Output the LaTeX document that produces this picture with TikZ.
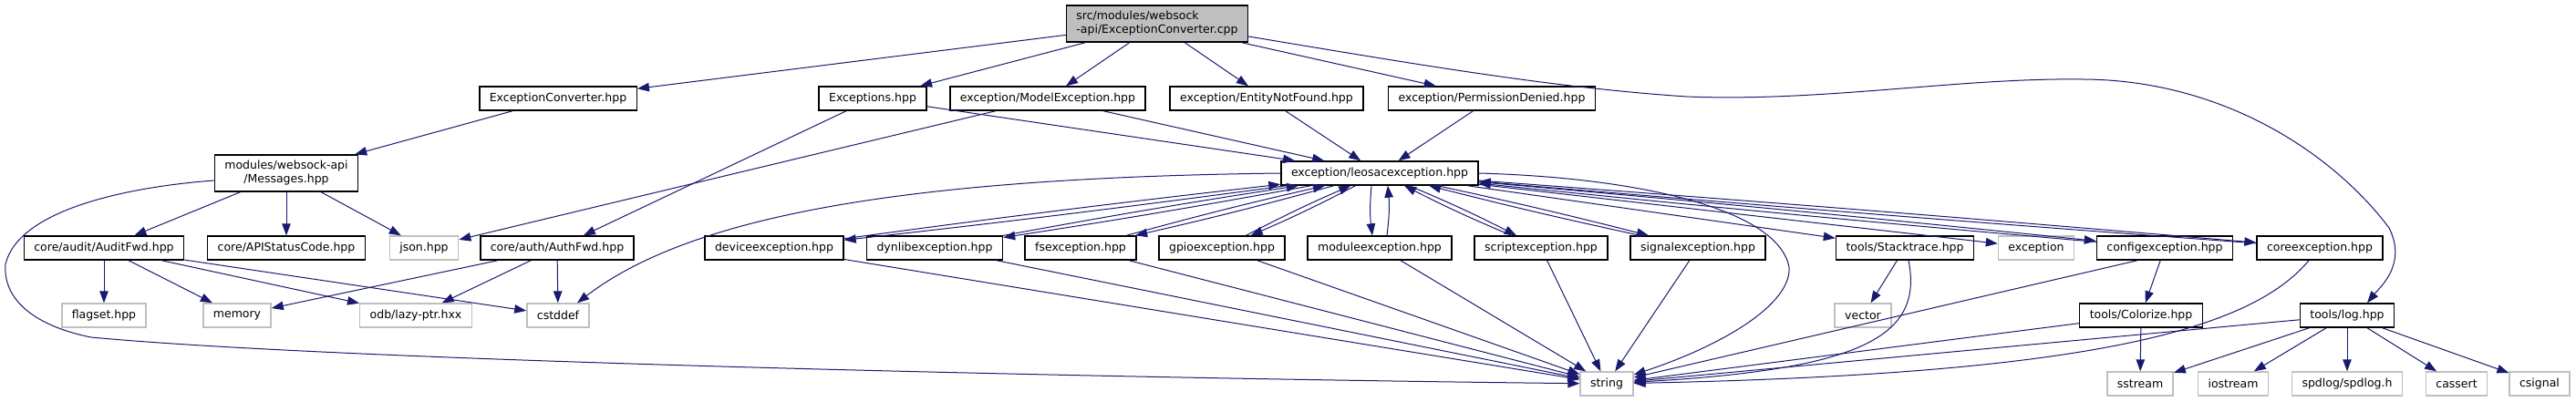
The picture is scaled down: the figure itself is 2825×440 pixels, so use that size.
\documentclass[tikz,border=0pt]{standalone}
\usepackage{fontspec}
\setmainfont{DejaVu Sans}
\usepackage{tikz}
\usetikzlibrary{arrows.meta}
\definecolor{edgeblue}{HTML}{191970}
\definecolor{extgray}{HTML}{BFBFBF}
\tikzset{
  file/.style={draw=black,line width=1.4pt,fill=white,inner xsep=11pt,inner ysep=0pt,
    minimum height=26pt,font=\fontsize{12.5}{15}\selectfont},
  sysfile/.style={file,draw=extgray},                                  % system header
  rootfile/.style={file,fill=extgray,minimum height=40pt,align=left},  % the .cpp itself
  dep/.style={-{Triangle[length=13pt,width=9.5pt]},draw=edgeblue,line width=1pt},
}

\begin{document}
\begin{tikzpicture}[x=1pt,y=-1pt]
  \useasboundingbox (0,0) rectangle (2825,440);
  % files
  \node[rootfile] (root) at (1269,26) {src/modules/websock\\-api/ExceptionConverter.cpp};
  \node[file] (exconv) at (612,108) {ExceptionConverter.hpp};
  \node[file] (excs) at (957,108) {Exceptions.hpp};
  \node[file] (modexc) at (1149,108) {exception/ModelException.hpp};
  \node[file] (entnf) at (1389,108) {exception/EntityNotFound.hpp};
  \node[file] (permd) at (1636,108) {exception/PermissionDenied.hpp};
  \node[file,minimum height=40pt,align=center] (msgs) at (314,190) {modules/websock-api\\/Messages.hpp};
  \node[file] (leo) at (1513,190) {exception/leosacexception.hpp};
  \node[file] (audit) at (114,272) {core/audit/AuditFwd.hpp};
  \node[file] (apistat) at (314,272) {core/APIStatusCode.hpp};
  \node[sysfile] (json) at (465,272) {json.hpp};
  \node[file] (auth) at (611,272) {core/auth/AuthFwd.hpp};
  \node[file] (devexc) at (849,272) {deviceexception.hpp};
  \node[file] (dynexc) at (1025,272) {dynlibexception.hpp};
  \node[file] (fsexc) at (1185,272) {fsexception.hpp};
  \node[file] (gpioexc) at (1340,272) {gpioexception.hpp};
  \node[file] (modlexc) at (1513,272) {moduleexception.hpp};
  \node[file] (screxc) at (1690,272) {scriptexception.hpp};
  \node[file] (sigexc) at (1862,272) {signalexception.hpp};
  \node[file] (stack) at (2089,272) {tools/Stacktrace.hpp};
  \node[sysfile] (stdexc) at (2233,272) {exception};
  \node[file] (cfgexc) at (2374,272) {configexception.hpp};
  \node[file] (coreexc) at (2544,272) {coreexception.hpp};
  \node[sysfile] (flagset) at (114,346) {flagset.hpp};
  \node[sysfile] (memory) at (260,346) {memory};
  \node[sysfile] (lazyptr) at (456,346) {odb/lazy-ptr.hxx};
  \node[sysfile] (cstddef) at (612,346) {cstddef};
  \node[sysfile] (vector) at (2043,346) {vector};
  \node[file] (colorize) at (2348,346) {tools/Colorize.hpp};
  \node[file] (log) at (2574,346) {tools/log.hpp};
  \node[sysfile] (string) at (1762,421) {string};
  \node[sysfile] (sstream) at (2347,421) {sstream};
  \node[sysfile] (iostream) at (2449,421) {iostream};
  \node[sysfile] (spdlog) at (2574,421) {spdlog/spdlog.h};
  \node[sysfile] (cassert) at (2694,421) {cassert};
  \node[sysfile] (csignal) at (2785,421) {csignal};

  % includes of the .cpp
  \foreach \n in {exconv,excs,modexc,entnf,permd}
    \draw[dep] (root) -- (\n);
  \draw[dep] ([yshift=-14pt]root.east) .. controls (1550,70) and (1700,96) .. (1850,106)
    .. controls (2000,112) and (2150,85) .. (2285,87)
    .. controls (2440,88) and (2560,170) .. (2620,250)
    .. controls (2640,290) and (2610,315) .. ([xshift=22pt]log.north);

  % websock-api side
  \draw[dep] (exconv) -- (msgs);
  \foreach \n in {audit,apistat,json}
    \draw[dep] (msgs) -- (\n);
  \draw[dep] ([yshift=-8pt]msgs.west) .. controls (140,205) and (20,230) .. (6,290)
    .. controls (3,330) and (40,358) .. (100,370)
    .. controls (400,398) and (1300,416) .. (string);
  \foreach \n in {flagset,memory,lazyptr,cstddef}
    \draw[dep] (audit) -- (\n);
  \draw[dep] (excs) -- (auth);
  \foreach \n in {memory,lazyptr,cstddef}
    \draw[dep] (auth) -- (\n);
  \draw[dep] (modexc) -- (json);
  \foreach \n in {excs,modexc,entnf,permd}
    \draw[dep] (\n) -- (leo);

  % leosacexception and its friends (they include each other)
  \draw[dep] (leo.west) .. controls (1000,195) and (760,235) .. ([xshift=21pt]cstddef.north);
  \foreach \n/\b in {devexc/0.6,dynexc/0.8,fsexc/1.2,gpioexc/2,screxc/2,sigexc/1,cfgexc/0.4,coreexc/0.3}{
    \draw[dep] (leo) to[bend left=\b] (\n);
    \draw[dep] (\n) to[bend left=\b] (leo);
  }
  \draw[dep] ([xshift=-9pt]leo.south) to[bend right=6] ([xshift=-8pt]modlexc.north);
  \draw[dep] ([xshift=8pt]modlexc.north) to[bend right=6] ([xshift=9pt]leo.south);
  \draw[dep] (leo) -- (stack);
  \draw[dep] (leo) -- (stdexc);
  \draw[dep] (leo.east) .. controls (1800,195) and (1950,230) .. (1962,293)
    .. controls (1965,330) and (1900,375) .. (string);

  % everything ends in <string>
  \foreach \n in {devexc,dynexc,fsexc,gpioexc,modlexc,screxc,sigexc,colorize,log}
    \draw[dep] (\n) -- (string);
  \draw[dep] ([xshift=-30pt]cfgexc.south) -- (string);
  \draw[dep] ([xshift=4pt]stack.south) .. controls (2110,370) and (2040,405) .. (string);
  \draw[dep] ([xshift=-12pt]coreexc.south) .. controls (2470,360) and (2300,410) .. (string);

  % tools
  \draw[dep] (stack) -- (vector);
  \draw[dep] (cfgexc) -- (colorize);
  \draw[dep] (colorize) -- (sstream);
  \foreach \n in {sstream,iostream,spdlog,cassert,csignal}
    \draw[dep] (log) -- (\n);
\end{tikzpicture}
\end{document}
